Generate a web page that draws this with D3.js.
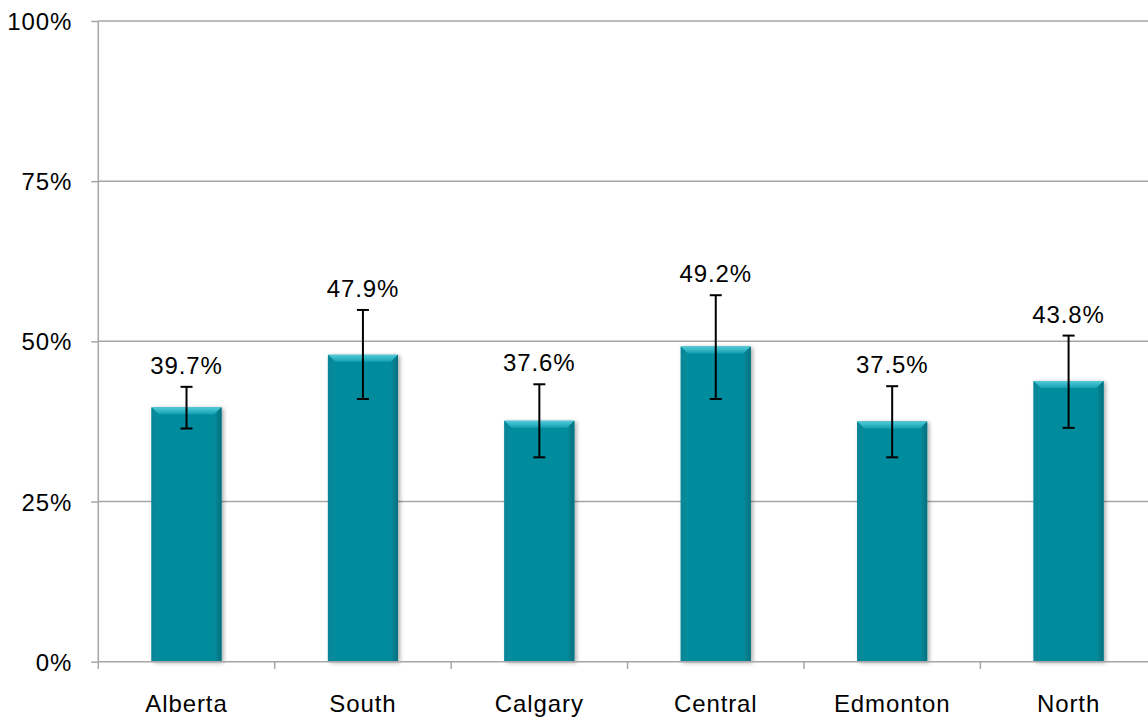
<!DOCTYPE html>
<html><head><meta charset="utf-8">
<script src="https://cdn.jsdelivr.net/npm/d3@7"></script>
<style>body{margin:0;background:#fff}svg{display:block;font-family:"Liberation Sans",Arial,sans-serif}</style>
</head><body><svg id="c" width="1148" height="719"></svg>
<script>
const categories = ["Alberta","South","Calgary","Central","Edmonton","North"];
const values = [39.7,47.9,37.6,49.2,37.5,43.8];
const errLow = [36.4,41.0,31.9,41.0,31.9,36.5];
const errHigh = [42.9,54.9,43.3,57.2,43.0,50.9];
const yTicks = [0,25,50,75,100];

const svg = d3.select("#c");
const x = d3.scaleBand().domain(categories).range([98.3,1156.8]).paddingInner(0).paddingOuter(0);
const y = d3.scaleLinear().domain([0,100]).range([661.7,21]);
const bw = 70;
const LS = "0.9px";

const defs = svg.append("defs");
const gTop = defs.append("linearGradient").attr("id","gt").attr("x1",0).attr("y1",0).attr("x2",0).attr("y2",1);
gTop.append("stop").attr("offset","0%").attr("stop-color","#52cbd9");
gTop.append("stop").attr("offset","100%").attr("stop-color","#14a0b1");
const gL = defs.append("linearGradient").attr("id","gl").attr("x1",0).attr("y1",0).attr("x2",1).attr("y2",0);
gL.append("stop").attr("offset","0%").attr("stop-color","#0a8597");
gL.append("stop").attr("offset","100%").attr("stop-color","#068c9d");
const gR = defs.append("linearGradient").attr("id","gr").attr("x1",0).attr("y1",0).attr("x2",1).attr("y2",0);
gR.append("stop").attr("offset","0%").attr("stop-color","#068a9b");
gR.append("stop").attr("offset","100%").attr("stop-color","#04707f");
const sh = defs.append("filter").attr("id","sh").attr("x","-20%").attr("y","-5%").attr("width","140%").attr("height","110%");
sh.append("feGaussianBlur").attr("in","SourceAlpha").attr("stdDeviation",2);
sh.append("feOffset").attr("dx",2).attr("dy",1).attr("result","b");
sh.append("feComponentTransfer").append("feFuncA").attr("type","linear").attr("slope",0.35);
const m = sh.append("feMerge"); m.append("feMergeNode"); m.append("feMergeNode").attr("in","SourceGraphic");

// gridlines
svg.append("g").selectAll("line").data(yTicks.filter(d=>d>0)).join("line")
  .attr("x1",98.3).attr("x2",1148).attr("y1",d=>y(d)).attr("y2",d=>y(d))
  .attr("stroke","#a6a6a6").attr("stroke-width",1.5);

// y axis
const ya = svg.append("g").attr("transform","translate(98.3,0)")
  .call(d3.axisLeft(y).tickValues(yTicks).tickFormat(d=>d+"%").tickSize(7).tickPadding(19));
ya.select(".domain").attr("stroke","#a6a6a6").attr("stroke-width",1.5).attr("d","M0,21V661.7");
ya.selectAll(".tick line").attr("stroke","#a6a6a6").attr("stroke-width",1.5);
ya.selectAll("text").attr("font-size",24).attr("fill","#000").attr("font-family","Liberation Sans, Arial, sans-serif").attr("dy","0.36em").attr("letter-spacing",LS);

// bars
const bars = svg.append("g").selectAll("g").data(categories).join("g")
  .attr("transform",(d)=>`translate(${x(d)+x.bandwidth()/2-bw/2},0)`);
bars.each(function(d,i){
  const g = d3.select(this);
  const t = y(values[i]), b = y(0), h = b-t, bv=7;
  g.append("rect").attr("x",0).attr("y",t).attr("width",bw).attr("height",h).attr("fill","#058c9d").attr("filter","url(#sh)");
  g.append("path").attr("d",`M0,${t}L${bw},${t}L${bw-bv},${t+bv}L${bv},${t+bv}Z`).attr("fill","url(#gt)");
  g.append("path").attr("d",`M0,${t}L${bv},${t+bv}L${bv},${b}L0,${b}Z`).attr("fill","url(#gl)");
  g.append("path").attr("d",`M${bw},${t}L${bw-bv},${t+bv}L${bw-bv},${b}L${bw},${b}Z`).attr("fill","url(#gr)");
});

// x axis
const xa = svg.append("g").attr("transform","translate(0,661.7)")
  .call(d3.axisBottom(x).tickSize(0).tickPadding(0));
xa.select(".domain").attr("stroke","#a6a6a6").attr("stroke-width",1.5).attr("d","M98.3,0H1148");
xa.selectAll("text").attr("font-size",24).attr("fill","#000").attr("font-family","Liberation Sans, Arial, sans-serif").attr("y",50).attr("dy",0).attr("letter-spacing",LS);
svg.append("g").selectAll("line").data(categories).join("line")
  .attr("x1",d=>x(d)).attr("x2",d=>x(d)).attr("y1",661.7).attr("y2",669)
  .attr("stroke","#a6a6a6").attr("stroke-width",1.5);

// error bars
const eb = svg.append("g").attr("stroke","#000").attr("stroke-width",2);
categories.forEach((c,i)=>{
  const cx = x(c)+x.bandwidth()/2;
  eb.append("line").attr("x1",cx).attr("x2",cx).attr("y1",y(errHigh[i])).attr("y2",y(errLow[i]));
  eb.append("line").attr("x1",cx-6).attr("x2",cx+6).attr("y1",y(errHigh[i])).attr("y2",y(errHigh[i]));
  eb.append("line").attr("x1",cx-6).attr("x2",cx+6).attr("y1",y(errLow[i])).attr("y2",y(errLow[i]));
});

// labels
svg.append("g").selectAll("text").data(categories).join("text")
  .attr("x",d=>x(d)+x.bandwidth()/2).attr("y",(d,i)=>y(errHigh[i])-13)
  .attr("text-anchor","middle").attr("font-size",24).attr("fill","#000").attr("letter-spacing",LS)
  .text((d,i)=>values[i].toFixed(1)+"%");
</script></body></html>
